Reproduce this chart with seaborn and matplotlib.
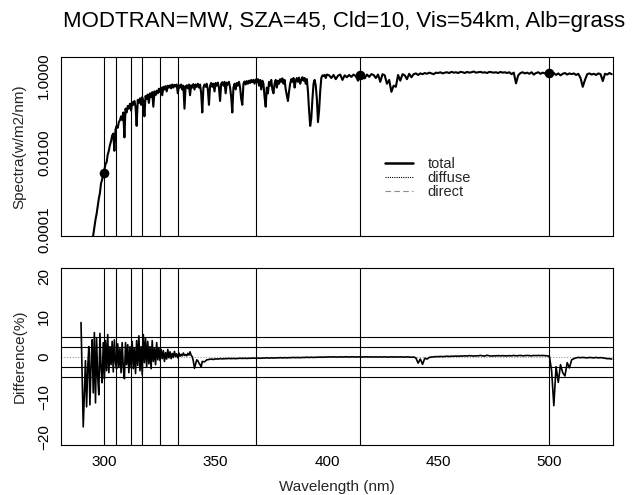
import numpy as np
import pandas as pd
import matplotlib
matplotlib.use("Agg")
import matplotlib.pyplot as plt
import seaborn as sns
from matplotlib.lines import Line2D
from matplotlib.ticker import NullLocator

# ---------------- data ----------------
title = "MODTRAN=MW, SZA=45, Cld=10, Vis=54km, Alb=grass"
channels_nm = [300, 305, 312, 317, 325, 333, 368, 415, 500]
diff_hlines = [5, 2.5, -2.5, -5]
legend_labels = ["total", "diffuse", "direct"]

# spectrum, log10(W/m2/nm), 0.5 nm steps from 290.0 to 400.0
wl_spec_fine = np.arange(290.0, 400.01, 0.5)
spec_log10_fine = [
    -5.5, -5.4, -5.3, -5.1, -5.0, -4.9, -4.75, -4.6, -4.45, -4.3,
    -4.15, -3.95, -3.75, -3.6, -3.4, -3.2, -3.05, -2.8, -2.7, -2.55,
    -2.45, -2.3, -2.25, -2.05, -1.95, -1.8, -1.7, -1.55, -1.5, -1.95,
    -1.4, -1.3, -1.35, -1.2, -1.15, -1.05, -1.15, -0.95, -1.6, -0.85,
    -0.95, -0.78, -0.85, -0.72, -0.9, -0.68, -0.75, -0.65, -0.8, -1.3,
    -0.62, -0.7, -0.58, -0.75, -0.55, -0.65, -1.05, -0.52, -0.6, -0.48,
    -0.7, -0.45, -0.55, -0.42, -0.8, -0.4, -0.5, -0.38, -0.45, -0.33,
    -0.42, -0.3, -0.5, -0.28, -0.35, -0.26, -0.4, -0.25, -0.3, -0.24,
    -0.32, -0.22, -0.3, -0.23, -0.27, -0.22, -0.45, -0.24, -0.3, -0.22,
    -0.35, -0.25, -0.85, -0.28, -0.24, -0.32, -0.22, -0.5, -0.24, -0.3,
    -0.21, -0.35, -0.22, -0.28, -0.2, -0.3, -0.22, -0.45, -0.95, -0.3,
    -0.22, -0.28, -0.2, -0.35, -0.75, -0.25, -0.18, -0.28, -0.2, -0.4,
    -0.18, -0.25, -0.17, -0.3, -0.65, -0.2, -0.16, -0.25, -0.15, -0.45,
    -0.17, -0.22, -0.15, -0.3, -0.55, -0.95, -0.3, -0.2, -0.35, -0.18,
    -0.25, -0.15, -0.3, -0.6, -0.75, -0.2, -0.14, -0.22, -0.13, -0.2,
    -0.12, -0.18, -0.1, -0.16, -0.1, -0.2, -0.09, -0.15, -0.08, -0.25,
    -0.1, -0.35, -0.12, -0.2, -0.55, -0.8, -0.3, -0.45, -0.15, -0.25,
    -0.1, -0.35, -0.45, -0.2, -0.1, -0.3, -0.12, -0.2, -0.08, -0.15,
    -0.06, -0.2, -0.1, -0.35, -0.5, -0.65, -0.4, -0.2, -0.08, -0.15,
    -0.05, -0.3, -0.12, -0.05, -0.15, -0.04, -0.2, -0.1, -0.03, -0.12,
    -0.05, -0.2, -0.08, -0.4, -0.9, -1.3, -1.1, -0.6, -0.2, -0.1,
    -0.25, -0.6, -1.2, -0.9, -0.4, -0.05, 0.02, 0.0, 0.03, -0.05,
    0.04,
]
# spectrum, log10(W/m2/nm), 1 nm steps from 401 to 528
wl_spec_coarse = np.arange(401, 529, 1)
spec_log10_coarse = [
    0.02, -0.05, 0.03, -0.08, 0.01, 0.04, -0.1, 0.02, -0.03, 0.03,
    -0.02, 0.04, 0.0, -0.12, 0.03, 0.02, -0.06, 0.04, -0.02, 0.05,
    0.03, -0.05, 0.04, -0.15, 0.05, 0.02, -0.2, -0.1, -0.41, -0.25,
    -0.28, 0.03, -0.12, 0.05, 0.02, -0.08, 0.06, -0.03, 0.05, 0.07,
    0.03, 0.07, 0.05, 0.08, 0.06, 0.09, 0.07, 0.05, 0.09, 0.08,
    0.1, 0.07, 0.09, 0.1, 0.08, 0.11, 0.09, 0.1, 0.08, 0.11,
    0.1, 0.08, 0.11, 0.09, 0.1, 0.12, 0.09, 0.1, 0.11, 0.09,
    0.1, 0.08, 0.11, 0.1, 0.09, 0.1, 0.08, 0.11, 0.09, 0.1,
    0.08, 0.1, 0.05, 0.09, -0.19, 0.02, 0.08, 0.1, 0.07, 0.09,
    0.06, 0.1, 0.04, 0.08, 0.1, 0.06, 0.09, 0.07, 0.1, 0.07,
    0.05, 0.08, 0.03, 0.07, 0.02, 0.06, 0.08, 0.04, 0.07, 0.05,
    0.07, 0.03, 0.06, -0.05, -0.28, -0.1, 0.05, 0.07, 0.04, 0.06,
    0.03, 0.07, 0.05, -0.13, 0.06, 0.04, 0.08, 0.05,
]

# measured points on the spectrum
dot_nm = [300, 415, 500]
dot_spec = [0.003, 1.07, 1.17]

# difference (%), 0.5 nm steps from 289.5 to 344.0
wl_diff_fine = np.arange(289.5, 344.01, 0.5)
diff_fine = [
    8.5, -4.5, -17.5, -9.5, -1.0, -12.5, -3.0, 2.5, -12.0, -2.0,
    4.2, -9.0, 6.0, -11.5, 4.5, -5.0, -9.5, 5.8, -3.0, -6.5,
    3.5, -5.5, 4.0, -3.5, 5.5, -4.0, 2.5, -2.0, 3.8, -3.8,
    4.2, -1.5, -3.0, 3.2, -2.5, 2.0, -4.0, 3.5, -2.8, -5.5,
    3.5, -2.0, 3.0, -4.0, 2.5, -2.8, 3.8, -3.0, 2.2, -4.2,
    4.0, -2.2, 5.2, -3.5, 2.5, -4.5, 5.5, -1.5, 4.6, -2.5,
    3.8, -1.8, 2.5, -3.0, 4.0, -1.2, 2.0, -2.0, 3.5, -0.8,
    2.2, -1.0, 1.8, -0.5, 1.5, -1.2, 1.0, -0.6, 1.8, -0.3,
    1.2, -0.5, 0.8, -0.2, 1.3, 0.0, 0.7, -0.3, 0.9, 0.1,
    0.6, 0.2, 0.9, 0.3, 0.5, 0.2, 0.8, 0.4, 1.2, 0.3,
    0.0, -1.2, -2.9, -1.8, -0.8, -1.0, -1.6, -2.0, -2.6, -1.2,
]
# difference (%), 1 nm steps from 345 to 528
wl_diff_coarse = np.arange(345, 529, 1)
diff_coarse = [
    -1.3, -0.8, -0.7, -0.6, -0.7, -0.55, -0.6, -0.5, -0.55, -0.5,
    -0.5, -0.45, -0.5, -0.45, -0.5, -0.45, -0.4, -0.45, -0.4, -0.45,
    -0.4, -0.4, -0.35, -0.4, -0.35, -0.4, -0.35, -0.35, -0.3, -0.35,
    -0.3, -0.35, -0.3, -0.3, -0.25, -0.3, -0.25, -0.3, -0.25, -0.25,
    -0.2, -0.25, -0.2, -0.25, -0.2, -0.2, -0.15, -0.2, -0.15, -0.2,
    -0.15, -0.15, -0.1, -0.15, -0.1, -0.1, -0.05, -0.1, -0.05, -0.1,
    -0.1, -0.05, -0.1, -0.05, -0.05, -0.1, -0.05, -0.05, -0.1, -0.05,
    -0.05, -0.1, -0.05, -0.05, -0.1, -0.05, -0.1, -0.05, -0.1, -0.05,
    -0.1, -0.05, -0.1, -0.1, -0.05, -0.1, -0.05, -0.1, -0.05, -0.1,
    -0.1, -0.05, -0.1, -0.15, -0.1, -0.3, -1.6, -0.6, -1.9, -0.4,
    -0.6, -0.2, -0.1, -0.05, 0.0, 0.0, 0.05, 0.0, 0.05, 0.1,
    0.05, 0.1, 0.1, 0.15, 0.1, 0.15, 0.15, 0.2, 0.15, 0.25,
    0.2, 0.15, 0.2, 0.2, 0.3, 0.2, 0.15, 0.35, 0.2, 0.15,
    0.2, 0.2, 0.25, 0.2, 0.25, 0.2, 0.2, 0.25, 0.2, 0.3,
    0.2, 0.25, 0.3, 0.2, 0.25, 0.3, 0.25, 0.2, 0.3, 0.25,
    0.3, 0.25, 0.3, 0.25, 0.2, 0.1, -3.5, -12.2, -2.5, -6.4,
    -2.0, -4.0, -4.8, -1.5, -2.8, -0.8, -0.5, -0.3, -0.2, -0.25,
    -0.2, -0.25, -0.3, -0.2, -0.25, -0.3, -0.2, -0.3, -0.25, -0.3,
    -0.4, -0.5, -0.5, -0.6,
]

# ---------------- tables for seaborn ----------------
spec_df = pd.DataFrame({
    "wl": np.concatenate([wl_spec_fine, wl_spec_coarse]),
    "spec": 10.0 ** np.array(spec_log10_fine + spec_log10_coarse),
})
diff_df = pd.DataFrame({
    "wl": np.concatenate([wl_diff_fine, wl_diff_coarse]),
    "diff": np.array(diff_fine + diff_coarse),
})
dot_df = pd.DataFrame({"wl": dot_nm, "spec": dot_spec})

# ---------------- style ----------------
sns.set_theme(style="white")
plt.rcParams["font.family"] = ["Liberation Sans", "DejaVu Sans"]
plt.rcParams["axes.edgecolor"] = "black"
plt.rcParams["axes.linewidth"] = 0.8

XLIM = (280.5, 528.6)

fig = plt.figure(figsize=(6.34, 4.95), dpi=100)
ax1 = fig.add_axes([0.0962, 0.5232, 0.8707, 0.361])
ax2 = fig.add_axes([0.0962, 0.101, 0.8707, 0.357])

fig.text(0.542, 1 - 22 / 495, title, ha="center", va="center",
         fontsize=16.0, color="black")

# ---------------- top panel ----------------
for c in channels_nm:
    ax1.axvline(c, color="black", lw=0.8, zorder=1)
sns.lineplot(data=spec_df, x="wl", y="spec", ax=ax1, color="black",
             lw=1.5, estimator=None, sort=False, legend=False, zorder=3)
sns.scatterplot(data=dot_df, x="wl", y="spec", ax=ax1, color="black",
                s=48, edgecolor="black", linewidth=0, zorder=4, legend=False)
ax1.set_yscale("log")
ax1.set_xlim(*XLIM)
ax1.set_ylim(10 ** -4.175, 10 ** 0.49)
ax1.yaxis.set_minor_locator(NullLocator())
ax1.set_yticks([1e-4, 1e-3, 1e-2, 1e-1, 1.0])
ax1.set_yticklabels(["0.0001", "", "0.0100", "", "1.0000"])
ax1.tick_params(axis="x", bottom=False, labelbottom=False)
ax1.set_xlabel("")
ax1.set_ylabel("Spectra(w/m2/nm)", fontsize=11)
ax1.yaxis.set_label_coords(-0.062, 0.5)

handles = [
    Line2D([], [], color="black", lw=1.8, ls="-"),
    Line2D([], [], color="black", lw=0.8, ls=(0, (1, 1))),
    Line2D([], [], color="0.55", lw=0.8, ls=(0, (5, 3))),
]
ax1.legend(handles, legend_labels, loc="upper left",
           bbox_to_anchor=(0.587, 0.44), frameon=False, fontsize=10.5,
           handlelength=1.9, handletextpad=1.0, labelspacing=0.0,
           borderpad=0, borderaxespad=0)

# ---------------- bottom panel ----------------
for c in channels_nm:
    ax2.axvline(c, color="black", lw=0.8, zorder=1)
for h in diff_hlines:
    ax2.axhline(h, color="black", lw=0.8, zorder=1)
ax2.axhline(0, color="0.6", lw=0.8, ls=(0, (1, 1.5)), zorder=0)
sns.lineplot(data=diff_df, x="wl", y="diff", ax=ax2, color="black",
             lw=1.2, estimator=None, sort=False, legend=False, zorder=3)
ax2.set_xlim(*XLIM)
ax2.set_ylim(-22, 22)
ax2.set_yticks([-20, -10, 0, 10, 20])
ax2.set_xticks([300, 350, 400, 450, 500])
ax2.set_xlabel("Wavelength (nm)", fontsize=11)
ax2.set_ylabel("Difference(%)", fontsize=11)
ax2.xaxis.set_label_coords(0.5, -0.198)
ax2.yaxis.set_label_coords(-0.062, 0.5)

for ax in (ax1, ax2):
    ax.tick_params(axis="both", direction="out", length=4, width=0.8,
                   labelsize=11, pad=3, color="black", labelcolor="black")
    for lab in ax.get_yticklabels():
        lab.set_rotation(90)
        lab.set_va("center")
    for s in ax.spines.values():
        s.set_visible(True)
        s.set_color("black")
        s.set_linewidth(0.8)
ax1.tick_params(axis="x", bottom=False, labelbottom=False)

fig.savefig("out.png", dpi=100)
